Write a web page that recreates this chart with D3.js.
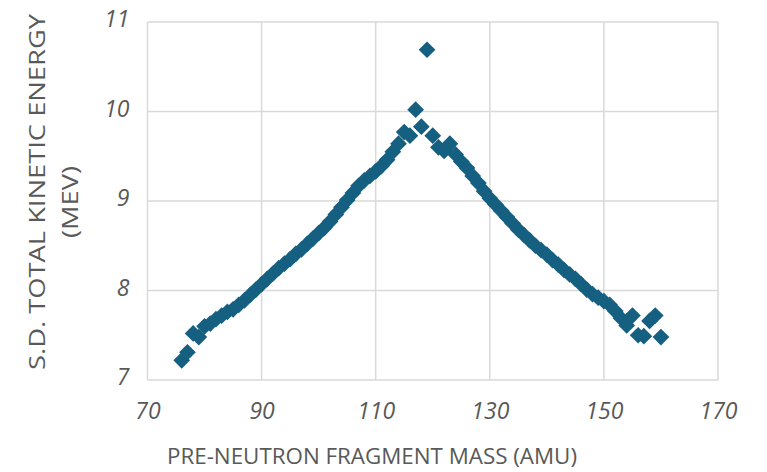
<!DOCTYPE html>
<html>
<head>
<meta charset="utf-8">
<script src="https://cdn.jsdelivr.net/npm/d3@7"></script>
<style>
  html, body { margin: 0; padding: 0; background: #fff; }
  svg { display: block; }
  text { font-family: "Open Sans", "DejaVu Sans", sans-serif; fill: #595959; }
</style>
</head>
<body>
<svg id="chart" width="767" height="472"></svg>
<script>
// Pre-neutron fragment mass (amu)
const masses = [
  76, 77, 78, 79, 80, 81, 82, 83, 84, 85, 86, 87, 88, 89, 90,
  91, 92, 93, 94, 95, 96, 97, 98, 99, 100, 101, 102, 103, 104, 105,
  106, 107, 108, 109, 110, 111, 112, 113, 114, 115, 116, 117, 118, 119, 120,
  121, 122, 123, 124, 125, 126, 127, 128, 129, 130, 131, 132, 133, 134, 135,
  136, 137, 138, 139, 140, 141, 142, 143, 144, 145, 146, 147, 148, 149, 150,
  151, 152, 153, 154, 155, 156, 157, 158, 159, 160
];
// Standard deviation of total kinetic energy (MeV)
const sdTKE = [
  7.22, 7.31, 7.52, 7.48, 7.60, 7.63, 7.68, 7.72, 7.76, 7.79, 7.84, 7.89, 7.95, 8.01, 8.07,
  8.13, 8.19, 8.25, 8.30, 8.35, 8.41, 8.46, 8.52, 8.58, 8.64, 8.70, 8.77, 8.85, 8.93, 9.01,
  9.09, 9.17, 9.23, 9.28, 9.33, 9.39, 9.46, 9.55, 9.64, 9.77, 9.73, 10.02, 9.83, 10.69, 9.73,
  9.60, 9.56, 9.64, 9.52, 9.44, 9.37, 9.28, 9.20, 9.11, 9.03, 8.96, 8.89, 8.82, 8.75, 8.68,
  8.62, 8.56, 8.50, 8.45, 8.40, 8.34, 8.29, 8.23, 8.18, 8.13, 8.07, 8.01, 7.96, 7.92, 7.88,
  7.84, 7.77, 7.69, 7.61, 7.72, 7.50, 7.49, 7.66, 7.72, 7.48
];
const xTicks = [70, 90, 110, 130, 150, 170];
const yTicks = [7, 8, 9, 10, 11];
const xTitle = "PRE-NEUTRON FRAGMENT MASS (AMU)";
const yTitle = ["S.D. TOTAL KINETIC ENERGY", "(MEV)"];

const svg = d3.select("#chart");
const plotLeft = 147.5, plotRight = 718, plotTop = 22, plotBottom = 380;

const x = d3.scaleLinear().domain([70, 170]).range([plotLeft, plotRight]);
const y = d3.scaleLinear().domain([7, 11]).range([plotBottom, plotTop]);

// gridlines (these also form the plot frame)
const grid = svg.append("g").attr("stroke", "#d9d9d9").attr("stroke-width", 1.5);
grid.selectAll(".vx").data(xTicks).join("line")
  .attr("x1", d => x(d)).attr("x2", d => x(d))
  .attr("y1", plotTop).attr("y2", plotBottom);
grid.selectAll(".hy").data(yTicks).join("line")
  .attr("x1", plotLeft).attr("x2", plotRight)
  .attr("y1", d => y(d)).attr("y2", d => y(d));

// tick labels
const xAxis = d3.axisBottom(x).tickValues(xTicks).tickFormat(d3.format("d"))
  .tickSize(0).tickPadding(0);
const gx = svg.append("g").attr("transform", `translate(0,${plotBottom + 23})`).call(xAxis);
gx.select(".domain").remove();
gx.selectAll("text").attr("font-size", 23).attr("fill", "#595959")
  .attr("font-style", "italic").attr("dy", "0.71em")
  .style("font-family", '"Open Sans", sans-serif');

const yAxis = d3.axisLeft(y).tickValues(yTicks).tickFormat(d3.format("d"))
  .tickSize(0).tickPadding(0);
const gy = svg.append("g").attr("transform", `translate(${plotLeft - 18},0)`).call(yAxis);
gy.select(".domain").remove();
gy.selectAll("text").attr("font-size", 23).attr("fill", "#595959")
  .attr("font-style", "italic").attr("dy", "0.2em")
  .style("font-family", '"Open Sans", sans-serif');

// axis titles
svg.append("text")
  .attr("x", 372).attr("y", 464)
  .attr("text-anchor", "middle")
  .attr("font-size", 21)
  .attr("textLength", 410).attr("lengthAdjust", "spacingAndGlyphs")
  .text(xTitle);

const yt = svg.append("g").attr("transform", "translate(0,192) rotate(-90)");
yt.append("text")
  .attr("x", 0).attr("y", 45)
  .attr("text-anchor", "middle")
  .attr("font-size", 21)
  .attr("textLength", 356).attr("lengthAdjust", "spacingAndGlyphs")
  .text(yTitle[0]);
yt.append("text")
  .attr("x", -10).attr("y", 78)
  .attr("text-anchor", "middle")
  .attr("font-size", 21)
  .attr("textLength", 72).attr("lengthAdjust", "spacingAndGlyphs")
  .text(yTitle[1]);

// diamond markers
const points = masses.map((m, i) => ({ m, v: sdTKE[i] }));
const diamond = d3.symbol().type(d3.symbolSquare).size(140);
svg.append("g").selectAll("path").data(points).join("path")
  .attr("d", diamond)
  .attr("transform", d => `translate(${x(d.m)},${y(d.v)}) rotate(45)`)
  .attr("fill", "#155f80");
</script>
</body>
</html>
